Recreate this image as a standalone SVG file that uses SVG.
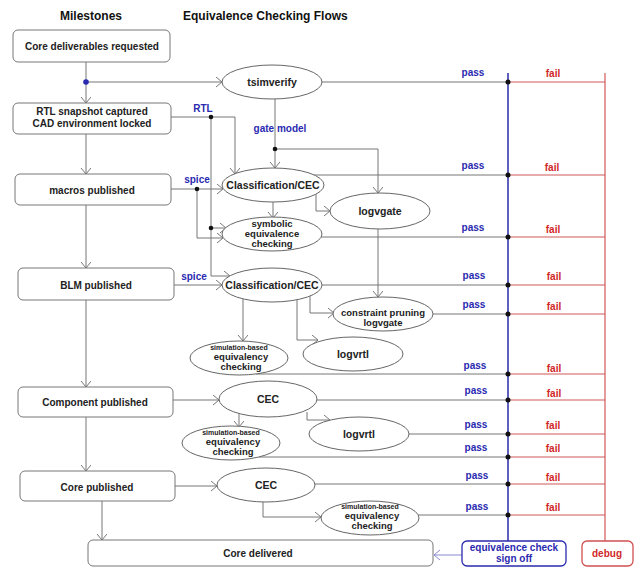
<svg xmlns="http://www.w3.org/2000/svg" width="638" height="567" viewBox="0 0 638 567">
  <style>
    .title { font-family: "Liberation Sans", Arial, sans-serif; font-weight: bold; font-size: 12px; fill: #111; }
    .lbl { font-family: "Liberation Sans", Arial, sans-serif; font-weight: bold; font-size: 10px; fill: #222; text-anchor: middle; }
    .el { font-family: "Liberation Sans", Arial, sans-serif; font-weight: bold; font-size: 10.5px; fill: #222; text-anchor: middle; }
    .el2 { font-family: "Liberation Sans", Arial, sans-serif; font-weight: bold; font-size: 9.5px; fill: #222; text-anchor: middle; }
    .tiny { font-family: "Liberation Sans", Arial, sans-serif; font-weight: bold; font-size: 7px; fill: #222; text-anchor: middle; }
    .blu { font-family: "Liberation Sans", Arial, sans-serif; font-weight: bold; font-size: 10px; fill: #2a2ab0; text-anchor: middle; }
    .red { font-family: "Liberation Sans", Arial, sans-serif; font-weight: bold; font-size: 10px; fill: #d02828; text-anchor: middle; }
    .box { fill: #fff; stroke: #777; stroke-width: 1; }
    .ell { fill: #fff; stroke: #666; stroke-width: 1; }
    .ln { fill: none; stroke: #777; stroke-width: 1; }
    .arr { fill: none; stroke: #777; stroke-width: 1; marker-end: url(#chev); }
    .rl { fill: none; stroke: #d05858; stroke-width: 1.2; }
    .bl { fill: none; stroke: #2a2aa8; stroke-width: 1.5; }
    .dot { fill: #111; }
  </style>
  <defs>
    <marker id="chev" markerUnits="userSpaceOnUse" markerWidth="8" markerHeight="11" refX="6" refY="5" orient="auto">
      <path d="M0,0 L6,5 L0,10" fill="none" stroke="#777" stroke-width="1"/>
    </marker>
    <marker id="chevb" markerUnits="userSpaceOnUse" markerWidth="8" markerHeight="11" refX="6" refY="5" orient="auto">
      <path d="M0,0 L6,5 L0,10" fill="none" stroke="#8a8ad0" stroke-width="1"/>
    </marker>
  </defs>

  <!-- column headings -->
  <text class="title" x="91" y="20" text-anchor="middle">Milestones</text>
  <text class="title" x="183" y="20">Equivalence Checking Flows</text>

  <!-- connectors -->
  <g id="connectors">
    <!-- milestone chain -->
    <line class="arr" x1="86" y1="62" x2="86" y2="103"/>
    <line class="arr" x1="86" y1="134" x2="86" y2="174"/>
    <line class="arr" x1="86" y1="205" x2="86" y2="268"/>
    <line class="arr" x1="86" y1="300" x2="86" y2="387"/>
    <line class="arr" x1="86" y1="417" x2="86" y2="471"/>
    <line class="arr" x1="102" y1="501" x2="102" y2="540"/>

    <!-- request to tsimverify -->
    <line class="arr" x1="86" y1="82" x2="222" y2="82"/>
    <circle cx="86" cy="82" r="2.8" fill="#2a2ab0"/>

    <!-- RTL feed -->
    <polyline class="arr" points="171,117 235,117 235,174"/>
    <polyline class="arr" points="211,117 211,276 230,276"/>
    <line class="arr" x1="211" y1="228" x2="226" y2="228"/>
    <circle class="dot" cx="211" cy="117" r="2.3"/>
    <circle class="dot" cx="211" cy="228" r="2.3"/>
    <text class="blu" x="203" y="112">RTL</text>

    <!-- gate model feed -->
    <line class="arr" x1="275" y1="99" x2="275" y2="168"/>
    <polyline class="arr" points="275,149 378,149 378,193"/>
    <circle class="dot" cx="275" cy="149" r="2.3"/>
    <text class="blu" x="280" y="132">gate model</text>

    <!-- spice feed from macros -->
    <line class="arr" x1="171" y1="189" x2="223" y2="189"/>
    <polyline class="arr" points="197,189 197,238 223,238"/>
    <circle class="dot" cx="197" cy="189" r="2.3"/>
    <text class="blu" x="197" y="183">spice</text>

    <!-- spice feed from BLM -->
    <line class="arr" x1="174" y1="285" x2="222" y2="285"/>
    <text class="blu" x="194" y="280">spice</text>

    <!-- Classification/CEC (macros) fan-out -->
    <line class="arr" x1="273" y1="202" x2="273" y2="218"/>
    <polyline class="arr" points="316,194 316,211 330,211"/>
    <line class="arr" x1="378" y1="229" x2="378" y2="297"/>

    <!-- Classification/CEC (BLM) fan-out -->
    <line class="arr" x1="243" y1="299" x2="243" y2="341"/>
    <polyline class="arr" points="297,300 297,340 318,340"/>
    <polyline class="arr" points="310,296 310,313 334,313"/>

    <!-- component CEC fan-out -->
    <line class="arr" x1="173" y1="400" x2="219" y2="400"/>
    <line class="arr" x1="239" y1="414" x2="239" y2="427"/>
    <polyline class="arr" points="307,412 307,420 330,420"/>

    <!-- core CEC fan-out -->
    <line class="arr" x1="175" y1="486" x2="217" y2="486"/>
    <polyline class="arr" points="263,502 263,517 321,517"/>

    <!-- result rows to pass / fail buses -->
    <g>
      <line class="ln" x1="322" y1="82" x2="508" y2="82"/>
      <line class="ln" x1="314" y1="175" x2="508" y2="175"/>
      <line class="ln" x1="321" y1="237" x2="508" y2="237"/>
      <line class="ln" x1="322" y1="285" x2="508" y2="285"/>
      <line class="ln" x1="433" y1="314" x2="508" y2="314"/>
      <line class="ln" x1="256" y1="374" x2="508" y2="374"/>
      <line class="ln" x1="317" y1="400" x2="508" y2="400"/>
      <line class="ln" x1="409" y1="434" x2="508" y2="434"/>
      <line class="ln" x1="259" y1="457" x2="508" y2="457"/>
      <line class="ln" x1="315" y1="484" x2="508" y2="484"/>
      <line class="ln" x1="418" y1="515" x2="508" y2="515"/>
    </g>
    <g>
      <line class="rl" x1="508" y1="82" x2="605" y2="82"/>
      <line class="rl" x1="508" y1="175" x2="605" y2="175"/>
      <line class="rl" x1="508" y1="237" x2="605" y2="237"/>
      <line class="rl" x1="508" y1="285" x2="605" y2="285"/>
      <line class="rl" x1="508" y1="314" x2="605" y2="314"/>
      <line class="rl" x1="508" y1="374" x2="605" y2="374"/>
      <line class="rl" x1="508" y1="400" x2="605" y2="400"/>
      <line class="rl" x1="508" y1="434" x2="605" y2="434"/>
      <line class="rl" x1="508" y1="457" x2="605" y2="457"/>
      <line class="rl" x1="508" y1="484" x2="605" y2="484"/>
      <line class="rl" x1="508" y1="515" x2="605" y2="515"/>
    </g>
    <line class="bl" x1="508" y1="73" x2="508" y2="541"/>
    <line class="rl" x1="605" y1="73" x2="605" y2="541"/>
    <g>
      <circle class="dot" cx="508" cy="82" r="2.5"/>
      <circle class="dot" cx="508" cy="175" r="2.5"/>
      <circle class="dot" cx="508" cy="237" r="2.5"/>
      <circle class="dot" cx="508" cy="285" r="2.5"/>
      <circle class="dot" cx="508" cy="314" r="2.5"/>
      <circle class="dot" cx="508" cy="374" r="2.5"/>
      <circle class="dot" cx="508" cy="400" r="2.5"/>
      <circle class="dot" cx="508" cy="434" r="2.5"/>
      <circle class="dot" cx="508" cy="457" r="2.5"/>
      <circle class="dot" cx="508" cy="484" r="2.5"/>
      <circle class="dot" cx="508" cy="515" r="2.5"/>
    </g>
    <g>
      <text class="blu" x="473" y="76">pass</text>
      <text class="blu" x="473" y="169">pass</text>
      <text class="blu" x="473" y="231">pass</text>
      <text class="blu" x="474" y="279">pass</text>
      <text class="blu" x="474" y="308">pass</text>
      <text class="blu" x="475" y="369">pass</text>
      <text class="blu" x="476" y="394">pass</text>
      <text class="blu" x="476" y="428">pass</text>
      <text class="blu" x="476" y="451">pass</text>
      <text class="blu" x="477" y="479">pass</text>
      <text class="blu" x="477" y="510">pass</text>
    </g>
    <g>
      <text class="red" x="553" y="77">fail</text>
      <text class="red" x="552" y="171">fail</text>
      <text class="red" x="553" y="233">fail</text>
      <text class="red" x="554" y="280">fail</text>
      <text class="red" x="554" y="310">fail</text>
      <text class="red" x="554" y="372">fail</text>
      <text class="red" x="554" y="397">fail</text>
      <text class="red" x="553" y="429">fail</text>
      <text class="red" x="553" y="452">fail</text>
      <text class="red" x="553" y="481">fail</text>
      <text class="red" x="553" y="511">fail</text>
    </g>

    <!-- sign off to delivery -->
    <line x1="462" y1="555" x2="434" y2="555" stroke="#8a8ad0" stroke-width="1" marker-end="url(#chevb)"/>
  </g>

  <!-- milestones -->
  <g id="m-requested">
    <rect class="box" x="13" y="30" width="157" height="32" rx="5"/>
    <text class="lbl" x="92" y="50">Core deliverables requested</text>
  </g>
  <g id="m-snapshot">
    <rect class="box" x="13" y="103" width="158" height="31" rx="5"/>
    <text class="lbl" x="92" y="115">RTL snapshot captured</text>
    <text class="lbl" x="92" y="127">CAD environment locked</text>
  </g>
  <g id="m-macros">
    <rect class="box" x="15" y="174" width="156" height="31" rx="5"/>
    <text class="lbl" x="92" y="194">macros published</text>
  </g>
  <g id="m-blm">
    <rect class="box" x="18" y="268" width="156" height="32" rx="5"/>
    <text class="lbl" x="96" y="289">BLM published</text>
  </g>
  <g id="m-component">
    <rect class="box" x="18" y="387" width="155" height="30" rx="5"/>
    <text class="lbl" x="95" y="406">Component published</text>
  </g>
  <g id="m-core">
    <rect class="box" x="20" y="471" width="155" height="30" rx="5"/>
    <text class="lbl" x="97" y="491">Core published</text>
  </g>
  <g id="m-delivered">
    <rect class="box" x="88" y="540" width="345" height="26" rx="5"/>
    <text class="lbl" x="258" y="557">Core delivered</text>
  </g>

  <!-- checking flows -->
  <g id="tsimverify">
    <ellipse class="ell" cx="272" cy="82" rx="50" ry="17"/>
    <text class="el" x="272" y="86">tsimverify</text>
  </g>
  <g id="cls-macros">
    <ellipse class="ell" cx="273" cy="185" rx="51" ry="17"/>
    <text class="el" x="273" y="189">Classification/CEC</text>
  </g>
  <g id="logvgate">
    <ellipse class="ell" cx="380" cy="211" rx="50" ry="18"/>
    <text class="el" x="380" y="215">logvgate</text>
  </g>
  <g id="symbolic">
    <ellipse class="ell" cx="272" cy="234" rx="50" ry="17"/>
    <text class="el2" x="272" y="227">symbolic</text>
    <text class="el2" x="272" y="237">equivalence</text>
    <text class="el2" x="272" y="247">checking</text>
  </g>
  <g id="cls-blm">
    <ellipse class="ell" cx="272" cy="285" rx="50" ry="17"/>
    <text class="el" x="272" y="289">Classification/CEC</text>
  </g>
  <g id="constraint">
    <ellipse class="ell" cx="383" cy="314" rx="50" ry="17"/>
    <text class="el2" x="383" y="316">constraint pruning</text>
    <text class="el2" x="383" y="326">logvgate</text>
  </g>
  <g id="logvrtl-blm">
    <ellipse class="ell" cx="353" cy="354" rx="50" ry="17"/>
    <text class="el" x="353" y="358">logvrtl</text>
  </g>
  <g id="sim-blm">
    <ellipse class="ell" cx="239" cy="358" rx="49" ry="17"/>
    <text class="tiny" x="239" y="350">simulation-based</text>
    <text class="el2" x="241" y="360">equivalency</text>
    <text class="el2" x="241" y="370">checking</text>
  </g>
  <g id="cec-component">
    <ellipse class="ell" cx="268" cy="399" rx="49" ry="18"/>
    <text class="el" x="268" y="403">CEC</text>
  </g>
  <g id="logvrtl-component">
    <ellipse class="ell" cx="359" cy="434" rx="50" ry="17"/>
    <text class="el" x="359" y="438">logvrtl</text>
  </g>
  <g id="sim-component">
    <ellipse class="ell" cx="231" cy="443" rx="49" ry="17"/>
    <text class="tiny" x="231" y="435">simulation-based</text>
    <text class="el2" x="233" y="445">equivalency</text>
    <text class="el2" x="233" y="455">checking</text>
  </g>
  <g id="cec-core">
    <ellipse class="ell" cx="266" cy="485" rx="49" ry="17"/>
    <text class="el" x="266" y="489">CEC</text>
  </g>
  <g id="sim-core">
    <ellipse class="ell" cx="370" cy="518" rx="49" ry="17"/>
    <text class="tiny" x="370" y="509">simulation-based</text>
    <text class="el2" x="372" y="519">equivalency</text>
    <text class="el2" x="372" y="529">checking</text>
  </g>

  <!-- outcome boxes -->
  <g id="signoff">
    <rect x="462" y="541" width="104" height="25" rx="5" fill="#fff" stroke="#2a2ab0" stroke-width="1.3"/>
    <text class="blu" x="514" y="551" font-size="10.5">equivalence check</text>
    <text class="blu" x="514" y="562" font-size="10.5">sign off</text>
  </g>
  <g id="debug">
    <rect x="582" y="541" width="51" height="25" rx="5" fill="#fff" stroke="#d05050" stroke-width="1.3"/>
    <text class="red" x="607" y="557">debug</text>
  </g>
</svg>
